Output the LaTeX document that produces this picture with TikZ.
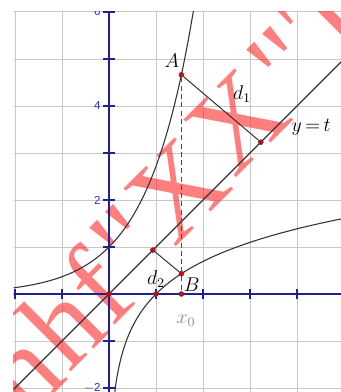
\documentclass[tikz,border=0pt]{standalone}
\usepackage{fontspec}
\newfontfamily\wmfont{Liberation Serif}
\newfontfamily\axfont{Liberation Sans}
\definecolor{gridgray}{HTML}{C8C8C8}
\definecolor{axisblue}{HTML}{1F1F96}
\definecolor{lblblue}{HTML}{3030C0}
\definecolor{curvegray}{HTML}{333333}
\definecolor{ptred}{HTML}{DD0000}
\definecolor{wmred}{HTML}{FF2A2A}
\definecolor{xgray}{HTML}{8A8FA0}
\begin{document}
\begin{tikzpicture}[
  gridline/.style={gridgray, line width=0.6pt},
  axisline/.style={axisblue, line width=0.9pt},
  tickline/.style={axisblue, line width=0.8pt},
  curve/.style={curvegray, line width=0.65pt},
  seg/.style={curvegray, line width=0.6pt},
  dashseg/.style={black!70, line width=0.75pt, dash pattern=on 3pt off 2pt},
  pt/.style={circle, fill=ptred, draw=black!75, line width=0.3pt, inner sep=0pt, minimum size=3pt},
  lbl/.style={font=\fontsize{12}{14}\selectfont, text=black, inner sep=0pt},
  axlbl/.style={font=\axfont\fontsize{7}{8}\selectfont, text=lblblue, inner sep=0pt},
  wm/.style={font=\wmfont\fontsize{72}{72}\selectfont, text=wmred, text opacity=0.6, rotate=45, inner sep=0pt}
]
\useasboundingbox (-2.3191,-2.0851) rectangle (4.9362,6.2553);
\fill[white] (-2.3191,-2.0851) rectangle (4.9362,6.2553);
\begin{scope}
\clip (-2.03,-2.0851) rectangle (4.9362,6.0);
% grid
\foreach \x in {-2,...,5} \draw[gridline] (\x,-2.2) -- (\x,6.1);
\foreach \y in {-2,...,6} \draw[gridline] (-2.1,\y) -- (5.0,\y);
% watermark
\node[wm] (w1) at (-1.90,-1.62) {h};
\node[wm] (w2) at (-1.02,-0.62) {h};
\node[wm] (w3) at (-0.27,0.20) {f};
\node[wm] (w4) at (0.42,1.06) {"};
\node[wm] (w5) at (1.45,2.20) {X};
\node[wm] (w6) at (2.73,3.66) {X};
\node[wm] (w7) at (3.76,4.86) {"};
\node[wm] (w8) at (4.70,5.92) {T};
% axes
\draw[axisline] (-2.1,0) -- (5,0);
\draw[axisline] (0,-2.2) -- (0,6.1);
\foreach \x in {-2,-1,1,2,3,4,5} \draw[tickline] (\x,-0.1) -- (\x,0.1);
\foreach \y in {-2,-1,1,2,3,4,5,6} \draw[tickline] (-0.12,\y) -- (0.12,\y);
\node[axlbl, anchor=east] (l6) at (-0.17,6) {6};
\node[axlbl, anchor=east] (l4) at (-0.17,4) {4};
\node[axlbl, anchor=east] (l2) at (-0.17,2) {2};
\node[axlbl, anchor=east] (lm2) at (-0.17,-2) {$-$2};
\node[axlbl, anchor=north] (l5) at (5,-0.2) {5};
% curves
\draw[curve] plot[domain=-2.1:1.86, samples=160, smooth] (\x,{exp(\x)});
\draw[curve] plot[domain=0.12:5, samples=200, smooth] (\x,{ln(\x)});
\draw[curve] (-2.2,-2.2) -- (5.1,5.1);
\end{scope}
% points
\node[pt] (A) at (1.54,4.664) {};
\node[pt] (B) at (1.54,0.432) {};
\node[pt] (X0) at (1.54,0) {};
\node[pt] (F1) at (3.23,3.23) {};
\node[pt] (F2) at (0.935,0.935) {};
\node[pt] (O) at (0,0) {};
\node[pt] (E) at (1,0) {};
\draw[seg] (A) -- (F1);
\draw[seg] (B) -- (F2);
\draw[dashseg] (A) -- (B);
\draw[dashseg] (B) -- (X0);
% labels
\node[lbl] (la) at (1.34,4.97) {$A$};
\node[lbl] (ld1) at (2.83,4.26) {$d_1$};
\node[lbl] (lyt) at (4.30,3.55) {$y\,{=}\,t$};
\node[lbl] (ld2) at (1.0,0.32) {$d_2$};
\node[lbl] (lb) at (1.76,0.2) {$B$};
\node[lbl, text=xgray] (lx0) at (1.64,-0.56) {$x_0$};
\end{tikzpicture}
\end{document}
